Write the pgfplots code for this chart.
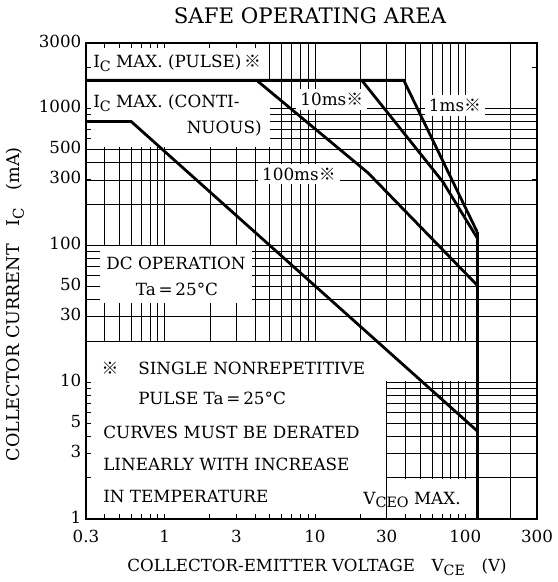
\documentclass[border=0pt]{standalone}
\usepackage{fontspec}
\setmainfont{DejaVu Serif}
\newfontfamily\cjk{Noto Sans CJK JP}
\usepackage{pgfplots}
\pgfplotsset{compat=1.18}
\pgfplotsset{layers/mylayers/.define layer set={axis background,axis grid,boxes,axis ticks,axis lines,axis tick labels,pre main,main,axis descriptions,axis foreground}{
  grid style={/pgfplots/on layer=axis grid},
  tick style={/pgfplots/on layer=axis ticks},
  axis line style={/pgfplots/on layer=axis lines},
  label style={/pgfplots/on layer=axis descriptions},
  title style={/pgfplots/on layer=axis descriptions},
  ticklabel style={/pgfplots/on layer=axis tick labels},
}}
\newcommand\sub[1]{\raisebox{-0.45ex}{\scalebox{0.85}{#1}}}
\newcommand\kome{{\cjk ※}}
\newcommand\tf{\fontsize{12.6}{14}\selectfont}
\begin{document}
\begin{tikzpicture}
\begin{axis}[
  set layers=mylayers,
  scale only axis, width=338.25pt, height=357pt,
  xmode=log, ymode=log, xmin=0.3, xmax=300, ymin=1, ymax=3000,
  xtick={0.3,1,3,10,30,100,300}, xticklabels={0.3,1,3,10,30,100,300},
  ytick={1,3,5,10,30,50,100,300,500,1000,3000},
  yticklabels={1,3,5,10,30,50,100,300,500,1000,3000},
  minor xtick={0.4,0.5,0.6,0.7,0.8,0.9,2,4,5,6,7,8,9,20,40,50,60,70,80,90,200},
  minor ytick={2,4,6,7,8,9,20,40,60,70,80,90,200,400,600,700,800,900},
  extra y ticks={2000}, extra y tick labels={}, extra y tick style={grid=none},
  grid=both,
  major grid style={black,line width=0.5pt},
  minor grid style={black,line width=0.5pt},
  tick align=inside, major tick length=4pt, minor tick length=4pt,
  tick style={black,line width=0.6pt},
  axis line style={line width=1.4pt},
  tick label style={font=\fontsize{12.5}{12.5}\selectfont},
  x tick label style={yshift=-4.5pt},
  y tick label style={yshift=1.5pt},
  /pgf/number format/assume math mode=true,
  clip=false,
]
\begin{pgfonlayer}{boxes}
\fill[white] (0.3,1600) rectangle (4.4,3000);
\fill[white] (0.3,520) rectangle (5.0,1600);
\fill[white] (0.372,38) rectangle (3.82,98);
\fill[white] (0.3,1) rectangle (29.7,19.7);
\fill[white] (29.7,10.2) rectangle (119,19.7);
\fill[white] (31,1) rectangle (112,1.95);
\node[anchor=west,inner sep=0] at (axis description cs:0.0155,0.958) {\tf I\sub{C} MAX. (PULSE)\,\kome};
\node[anchor=west,inner sep=0] at (axis description cs:0.0155,0.874) {\tf I\sub{C} MAX. (CONTI-};
\node[anchor=east,inner sep=0] at (axis description cs:0.390,0.821) {\tf NUOUS)};
\node[fill=white,inner sep=3pt] at (axis description cs:0.545,0.882) {\tf 10ms\kome};
\node[fill=white,inner sep=3pt] at (axis description cs:0.818,0.868) {\tf 1ms\kome};
\node[fill=white,inner sep=3pt] at (axis description cs:0.472,0.725) {\tf 100ms\kome};
\node[inner sep=0] at (axis description cs:0.1996,0.538) {\tf DC OPERATION};
\node[inner sep=0] at (axis description cs:0.2018,0.483) {\tf Ta\,=\,25°C};
\node[inner sep=0] at (axis description cs:0.053,0.317) {\tf\kome};
\node[anchor=west,inner sep=0] at (axis description cs:0.1153,0.317) {\tf SINGLE NONREPETITIVE};
\node[anchor=west,inner sep=0] at (axis description cs:0.1153,0.254) {\tf PULSE Ta\,=\,25°C};
\node[anchor=west,inner sep=0] at (axis description cs:0.0377,0.183) {\tf CURVES MUST BE DERATED};
\node[anchor=west,inner sep=0] at (axis description cs:0.0377,0.1155) {\tf LINEARLY WITH INCREASE};
\node[anchor=west,inner sep=0] at (axis description cs:0.0377,0.048) {\tf IN TEMPERATURE};
\node[inner sep=0] at (axis description cs:0.723,0.040) {\tf V\sub{CEO} MAX.};
\end{pgfonlayer}
% I_C max (pulse) and 1 ms
\addplot[black,line width=2.1pt] coordinates {(0.3,1600) (39,1600) (120,125)};
% V_CEO max
\addplot[black,line width=2.1pt] coordinates {(120,125) (120,1)};
% 10 ms
\addplot[black,line width=2.1pt] coordinates {(20.5,1600) (71,290) (120,113)};
% 100 ms
\addplot[black,line width=2.1pt] coordinates {(4.1,1600) (22.6,337) (120,51)};
% DC
\addplot[black,line width=2.1pt] coordinates {(0.3,800) (0.6,800) (120,4.4)};
\end{axis}
\node at (168pt,377.25pt) {\fontsize{16}{18}\selectfont SAFE OPERATING AREA};
\node at (173.25pt,-36pt) {\fontsize{12.5}{14}\selectfont COLLECTOR-EMITTER VOLTAGE\quad V\sub{CE}\quad (V)};
\node[rotate=90] at (-53pt,161pt) {\fontsize{13.2}{14}\selectfont COLLECTOR CURRENT\quad I\sub{C}\quad (mA)};
\path (-64.5pt,-47.25pt) rectangle (351pt,389.25pt);
\end{tikzpicture}
\end{document}
